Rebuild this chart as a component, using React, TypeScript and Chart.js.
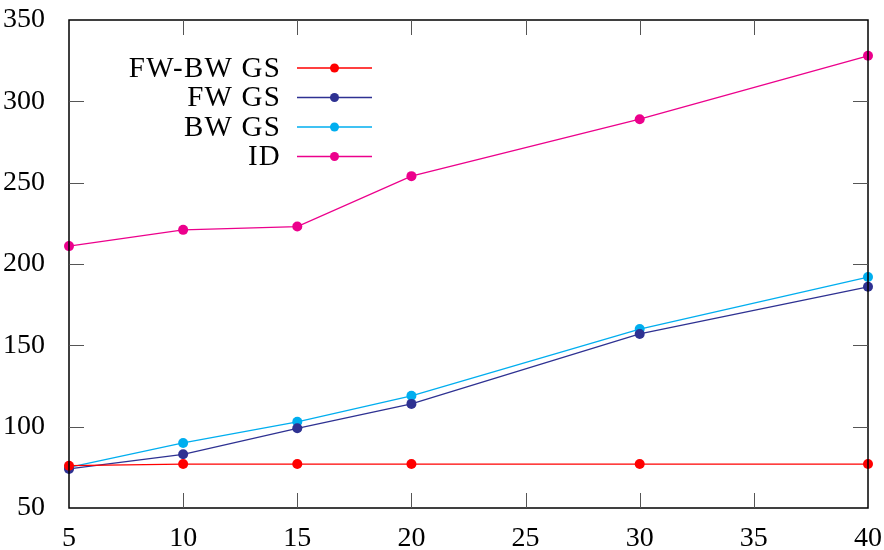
import React, { useEffect, useRef } from "react";
import { Chart, registerables } from "chart.js";

Chart.register(...registerables);

const xValues = [5, 10, 15, 20, 30, 40];
const fwbwGS = [76, 77, 77, 77, 77, 77];
const fwGS = [74, 83, 99, 114, 157, 186];
const bwGS = [75, 90, 103, 119, 160, 192];
const idSeries = [211, 221, 223, 254, 289, 328];

const seriesNames = ["FW-BW GS", "FW GS", "BW GS", "ID"];
const seriesColors = ["#ff0000", "#2e3192", "#00aeef", "#ec008c"];
const seriesValues = [fwbwGS, fwGS, bwGS, idSeries];

const FONT = "'Liberation Serif', 'DejaVu Serif', serif";

const framePlugin = {
  id: "frame",
  afterDatasetsDraw(chart: any) {
    const { ctx, chartArea, scales } = chart;
    const { left, right, top, bottom } = chartArea;
    ctx.save();
    ctx.strokeStyle = "#000";
    ctx.lineWidth = 1.5;
    ctx.strokeRect(left, top, right - left, bottom - top);
    ctx.strokeStyle = "#555";
    ctx.lineWidth = 1;
    const tl = 15;
    const xs = scales.x;
    const ys = scales.y;
    xs.ticks.forEach((t: any) => {
      const px = Math.round(xs.getPixelForValue(t.value)) + 0.5;
      if (t.value === xs.min || t.value === xs.max) return;
      ctx.beginPath();
      ctx.moveTo(px, bottom);
      ctx.lineTo(px, bottom - tl);
      ctx.moveTo(px, top);
      ctx.lineTo(px, top + tl);
      ctx.stroke();
    });
    ys.ticks.forEach((t: any) => {
      const py = Math.round(ys.getPixelForValue(t.value)) + 0.5;
      if (t.value === ys.min || t.value === ys.max) return;
      ctx.beginPath();
      ctx.moveTo(left, py);
      ctx.lineTo(left + tl, py);
      ctx.moveTo(right, py);
      ctx.lineTo(right - tl, py);
      ctx.stroke();
    });
    ctx.restore();
  },
  afterDraw(chart: any) {
    const { ctx } = chart;
    ctx.save();
    ctx.font = `29px ${FONT}`;
    (ctx as any).letterSpacing = "1.2px";
    ctx.textAlign = "right";
    ctx.textBaseline = "middle";
    const textRight = 281;
    const lineStart = 297;
    const lineEnd = 372;
    const y0 = 68;
    const dy = 29.5;
    seriesNames.forEach((name, i) => {
      const y = y0 + i * dy;
      ctx.fillStyle = "#000";
      ctx.fillText(name, textRight, y + 1);
      ctx.strokeStyle = seriesColors[i];
      ctx.lineWidth = 1.3;
      ctx.beginPath();
      ctx.moveTo(lineStart, y);
      ctx.lineTo(lineEnd, y);
      ctx.stroke();
      ctx.fillStyle = seriesColors[i];
      ctx.beginPath();
      ctx.arc((lineStart + lineEnd) / 2, y, 4.5, 0, Math.PI * 2);
      ctx.fill();
    });
    ctx.restore();
  },
};

export default function App() {
  const ref = useRef<HTMLCanvasElement>(null);
  useEffect(() => {
    document.body.style.margin = "0";
    const canvas = ref.current;
    if (!canvas) return;
    const chart = new Chart(canvas, {
      type: "line",
      data: {
        datasets: seriesNames.map((name, i) => ({
          label: name,
          data: xValues.map((x, j) => ({ x, y: seriesValues[i][j] })),
          borderColor: seriesColors[i],
          backgroundColor: seriesColors[i],
          borderWidth: 1.3,
          pointRadius: 5,
          pointBorderWidth: 0,
          pointHoverRadius: 5,
          tension: 0,
          clip: false as any,
        })),
      },
      options: {
        animation: false,
        responsive: false,
        maintainAspectRatio: false,
        layout: { padding: { top: 20, right: 16, left: 0, bottom: 0 } },
        plugins: { legend: { display: false }, tooltip: { enabled: false } },
        scales: {
          x: {
            type: "linear",
            min: 5,
            max: 40,
            grid: { display: false },
            border: { display: false },
            ticks: {
              stepSize: 5,
              color: "#000",
              font: { family: FONT, size: 28 },
              padding: 6,
              maxRotation: 0,
            },
            afterFit(scale: any) {
              scale.height = 42;
              scale.paddingLeft = 0;
              scale.paddingRight = 0;
            },
          },
          y: {
            min: 50,
            max: 350,
            grid: { display: false },
            border: { display: false },
            ticks: {
              stepSize: 50,
              color: "#000",
              font: { family: FONT, size: 28 },
              padding: 16,
            },
            afterFit(scale: any) {
              scale.width = 69;
              scale.paddingTop = 0;
              scale.paddingBottom = 0;
            },
          },
        },
      },
      plugins: [framePlugin],
    });
    return () => chart.destroy();
  }, []);
  return (
    <div style={{ width: 884, height: 550 }}>
      <canvas ref={ref} width={884} height={550} style={{ display: "block" }} />
    </div>
  );
}
